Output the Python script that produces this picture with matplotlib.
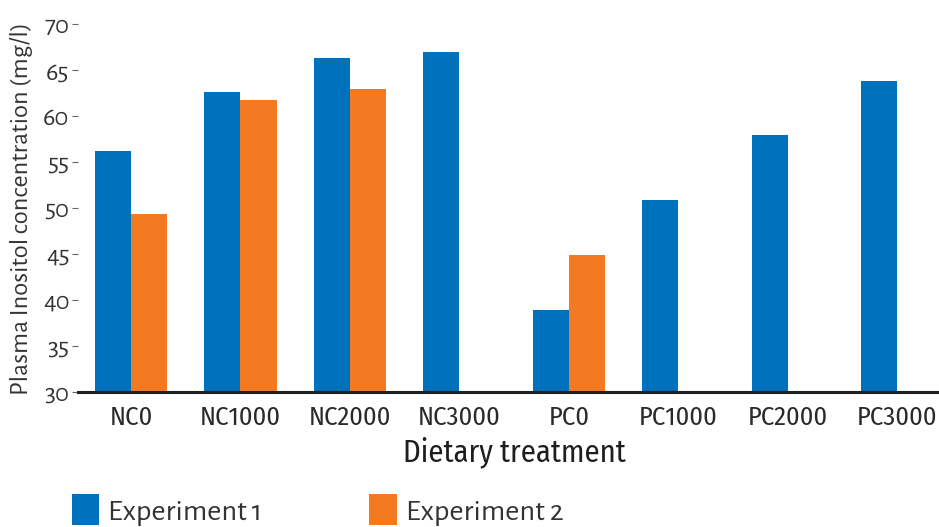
import numpy as np
import matplotlib
matplotlib.use("Agg")
import matplotlib.pyplot as plt
from matplotlib.patches import Patch

treatments = ["NC0", "NC1000", "NC2000", "NC3000", "PC0", "PC1000", "PC2000", "PC3000"]
experiment_1 = [56.2, 62.6, 66.3, 67.0, 38.9, 50.9, 57.9, 63.8]
experiment_2 = [49.3, 61.8, 63.0, np.nan, 44.9, np.nan, np.nan, np.nan]
y_ticks = [30, 35, 40, 45, 50, 55, 60, 65, 70]

BLUE = "#0071BC"
ORANGE = "#F47A22"
TEXT = "#333333"

COND = ["Fira Sans Condensed", "Barlow Condensed", "DejaVu Sans"]
HUMAN = ["Alegreya Sans", "Fira Sans", "DejaVu Sans"]

plt.rcParams["font.family"] = HUMAN

fig = plt.figure(figsize=(9.39, 5.27), dpi=100)
ax = fig.add_axes([0.083, 0.2567, 0.917, 0.6972])

x = np.arange(len(treatments))
w = 0.33

e1 = np.array(experiment_1, dtype=float)
e2 = np.array(experiment_2, dtype=float)
ax.bar(x - w / 2, e1 - 30, w, bottom=30, color=BLUE, linewidth=0)
m = ~np.isnan(e2)
ax.bar(x[m] + w / 2, e2[m] - 30, w, bottom=30, color=ORANGE, linewidth=0)

ax.set_xlim(-0.484, 7.38)
ax.set_ylim(30, 70)
ax.set_yticks(y_ticks)
ax.set_yticklabels([str(v) for v in y_ticks], fontsize=19, color=TEXT,
                   family=HUMAN, weight="normal")
ax.set_xticks(x)
ax.set_xticklabels(treatments, fontsize=19, color="#2a2a2a", family=COND, weight="normal")

for side in ["top", "right", "left"]:
    ax.spines[side].set_visible(False)
ax.spines["bottom"].set_linewidth(2.2)
ax.spines["bottom"].set_color("#231F20")

ax.tick_params(axis="x", length=0, pad=10)
ax.tick_params(axis="y", length=4, width=0.8, color="#666666", pad=2)

ax.set_ylabel("Plasma Inositol concentration (mg/l)", fontsize=19, color=TEXT,
              family=HUMAN, weight="normal")
ax.yaxis.set_label_coords(-0.052, 0.5)
ax.set_xlabel("Dietary treatment", fontsize=22, color="#1e1e1e", family=COND,
              weight="normal")
ax.xaxis.set_label_coords(0.507, -0.122)

handles = [Patch(facecolor=BLUE, edgecolor="none"), Patch(facecolor=ORANGE, edgecolor="none")]
leg = fig.legend(handles, ["Experiment 1", "Experiment 2"], loc="lower left",
                 bbox_to_anchor=(0.047, -0.05), ncol=2, frameon=False,
                 prop={"family": HUMAN, "size": 22, "weight": "normal"},
                 handlelength=0.9, handleheight=1.2, handletextpad=0.3,
                 columnspacing=3.5, labelcolor=TEXT)

fig.savefig("out.png", dpi=100)
